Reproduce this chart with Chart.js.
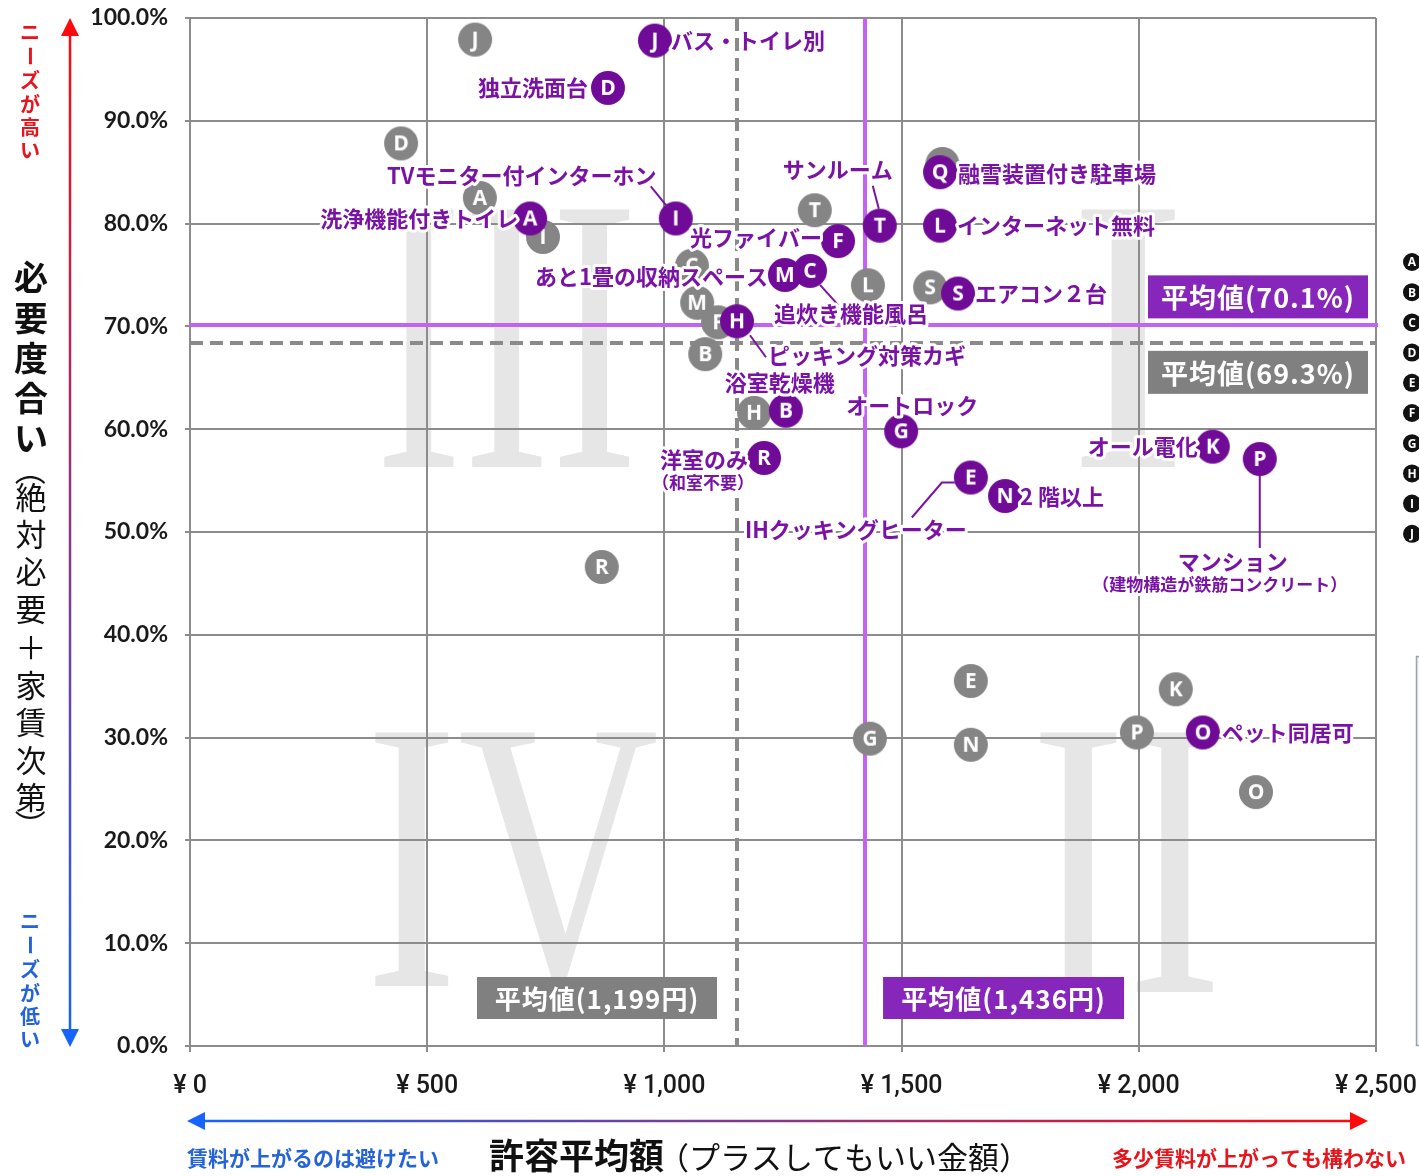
<!DOCTYPE html>
<html><head><meta charset="utf-8">
<script src="https://cdn.jsdelivr.net/npm/chart.js@4"></script>
<style>html,body{margin:0;padding:0;background:#fff;}#wrap{width:1419px;height:1176px;}</style>
</head><body><div id="wrap"><canvas id="c" width="1419" height="1176"></canvas></div>
<script>
// ---- data ----
const keys = ['A','B','C','D','E','F','G','H','I','J','K','L','M','N','O','P','Q','R','S','T'];
const prevX = [611,1086,1058,445,1646,1113,1433,1189,744,601,2078,1429,1069,1646,2247,1996,1586,868,1560,1317];
const prevY = [82.5,67.3,75.9,87.8,35.5,70.4,29.9,61.6,78.7,97.9,34.7,74.0,72.3,29.3,24.7,30.5,85.8,46.6,73.8,81.3];
const curX = [717,1256,1307,881,1646,1366,1499,1153,1024,980,2156,1581,1254,1718,2135,2255,1581,1210,1619,1454];
const curY = [80.5,61.8,75.4,93.2,55.3,78.3,59.8,70.5,80.5,97.8,58.3,79.8,75.0,53.5,30.5,57.1,85.0,57.2,73.2,79.8];
const itemNames = ['洗浄機能付きトイレ','浴室乾燥機','追炊き機能風呂','独立洗面台','IHクッキングヒーター','光ファイバー','オートロック','ピッキング対策カギ','TVモニター付インターホン','バス・トイレ別','オール電化','インターネット無料','あと1畳の収納スペース','2 階以上','ペット同居可','マンション','融雪装置付き駐車場','洋室のみ','エアコン２台','サンルーム'];
const subNames = {P:'（建物構造が鉄筋コンクリート）', R:'（和室不要）'};
const avgXValues = [1153, 1423];
const avgYValues = [68.4, 70.1];
const avgXText = ['平均値(1,199円)','平均値(1,436円)'];
const avgYText = ['平均値(69.3%)','平均値(70.1%)'];
const xTickValues = [0,500,1000,1500,2000,2500];
const yTickValues = [0,10,20,30,40,50,60,70,80,90,100];
const legendKeys = ['A','B','C','D','E','F','G','H','I','J'];

// ---- styles ----
const GRAY = '#858585', PURPLE = '#700b98', TEXTP = '#7a12a6', GRID = '#8c8c8c';
const AREA = {left:190, top:18, right:1376, bottom:1046};
const labelLayout = {
 A:{dx:-12,dy:0,al:'right'}, B:{dx:-6,dy:-28,al:'center'},
 C:{dx:41,dy:43,al:'center',ld:[[10,14],[28,34]]}, D:{dx:-20,dy:0,al:'right'},
 E:{dx:-115,dy:52,al:'center',ld:[[-16,5],[-29,5],[-59,40]]}, F:{dx:-16,dy:-3,al:'right'},
 G:{dx:11,dy:-26,al:'center'}, H:{dx:31,dy:34,al:'left',ld:[[13,14],[29,36]]},
 I:{dx:-154,dy:-43,al:'center',ld:[[-8,-11],[-25,-32]]}, J:{dx:16,dy:0,al:'left'},
 K:{dx:-15,dy:0,al:'right'}, L:{dx:17,dy:0,al:'left'}, M:{dx:-17,dy:2,al:'right'},
 N:{dx:15,dy:1,al:'left'}, O:{dx:19,dy:0,al:'left'},
 P:{dx:-27,dy:103,al:'center',sdx:-40,sdy:126,ld:[[0,17],[0,89]]},
 Q:{dx:18,dy:1,al:'left'}, R:{dx:-16,dy:2,al:'right',sdx:-61,sdy:25},
 S:{dx:17,dy:0,al:'left'}, T:{dx:-42,dy:-56,al:'center',ld:[[-1,-17],[-7,-40]]}
};
const JP = '"Noto Sans CJK JP", "Noto Sans", sans-serif';

function makeIcon(letter, color){
  const c = document.createElement('canvas'); c.width = 36; c.height = 36;
  const g = c.getContext('2d');
  g.fillStyle = color; g.beginPath(); g.arc(18,18,17,0,Math.PI*2); g.fill();
  g.fillStyle = '#fff'; g.font = 'bold 21px "Open Sans", sans-serif';
  g.textAlign = 'center'; g.textBaseline = 'middle';
  g.fillText(letter, 18, 19);
  return c;
}

function drawNumeral(ctx, txt, x0, x1, y0, y1){
  ctx.save();
  ctx.font = '400px "Liberation Serif", "DejaVu Serif", serif';
  const m = ctx.measureText(txt);
  const w = m.actualBoundingBoxLeft + m.actualBoundingBoxRight;
  const h = m.actualBoundingBoxAscent + m.actualBoundingBoxDescent;
  ctx.translate(x0, y1);
  ctx.scale((x1-x0)/w, (y1-y0)/h);
  ctx.fillStyle = '#e6e6e6';
  ctx.textBaseline = 'alphabetic';
  ctx.fillText(txt, m.actualBoundingBoxLeft, -m.actualBoundingBoxDescent);
  ctx.restore();
}

function haloText(ctx, txt, x, y, font, color, align){
  ctx.font = font; ctx.textAlign = align; ctx.textBaseline = 'middle';
  ctx.lineJoin = 'round'; ctx.strokeStyle = '#fff'; ctx.lineWidth = 6;
  ctx.strokeText(txt, x, y);
  ctx.fillStyle = color; ctx.fillText(txt, x, y);
}

function drawVertical(ctx, chars, x, centers, font, color){
  ctx.save();
  ctx.font = font; ctx.fillStyle = color; ctx.textAlign = 'center'; ctx.textBaseline = 'middle';
  chars.forEach((ch, i) => {
    const y = centers[i];
    if ('ー（）'.includes(ch)) {
      ctx.save(); ctx.translate(x, y); ctx.rotate(Math.PI/2); ctx.fillText(ch, 0, 0); ctx.restore();
    } else ctx.fillText(ch, x, y);
  });
  ctx.restore();
}

function box(ctx, x, y, w, h, fill, txt, font){
  ctx.save();
  ctx.fillStyle = fill; ctx.fillRect(x, y, w, h);
  ctx.fillStyle = '#fff'; ctx.font = font; ctx.textAlign = 'center'; ctx.textBaseline = 'middle';
  ctx.letterSpacing = '1px';
  ctx.fillText(txt, x + w/2, y + h/2 + 1);
  ctx.restore();
}

const decoPlugin = {
  id: 'deco',
  beforeDraw(chart){
    const ctx = chart.ctx;
    ctx.save(); ctx.fillStyle = '#fff'; ctx.fillRect(0,0,chart.width,chart.height); ctx.restore();
    drawNumeral(ctx, 'III', 383, 633, 209, 467);
    drawNumeral(ctx, 'I', 1080, 1180, 209, 467);
    drawNumeral(ctx, 'IV', 374, 658, 732, 992);
    drawNumeral(ctx, 'II', 1039, 1217, 732, 992);
  },
  beforeDatasetsDraw(chart){
    const ctx = chart.ctx, xs = chart.scales.x, ys = chart.scales.y, ca = chart.chartArea;
    ctx.save();
    ctx.strokeStyle = '#8a8a8a'; ctx.lineWidth = 4; ctx.setLineDash([13,7]);
    let px = Math.round(xs.getPixelForValue(avgXValues[0]));
    ctx.beginPath(); ctx.moveTo(px, ca.top); ctx.lineTo(px, ca.bottom); ctx.stroke();
    let py = Math.round(ys.getPixelForValue(avgYValues[0]));
    ctx.beginPath(); ctx.moveTo(ca.left, py); ctx.lineTo(ca.right, py); ctx.stroke();
    ctx.setLineDash([]);
    ctx.strokeStyle = '#c462f2';
    px = Math.round(xs.getPixelForValue(avgXValues[1]));
    ctx.beginPath(); ctx.moveTo(px, ca.top); ctx.lineTo(px, ca.bottom); ctx.stroke();
    py = Math.round(ys.getPixelForValue(avgYValues[1]));
    ctx.beginPath(); ctx.moveTo(ca.left, py); ctx.lineTo(ca.right + 2, py); ctx.stroke();
    ctx.restore();
  },
  afterDatasetsDraw(chart){
    const ctx = chart.ctx, xs = chart.scales.x, ys = chart.scales.y, ca = chart.chartArea;
    const meta = chart.getDatasetMeta(0);
    ctx.save();
    ctx.strokeStyle = TEXTP; ctx.lineWidth = 2;
    keys.forEach((k, i) => {
      const L = labelLayout[k]; if (!L.ld) return;
      const el = meta.data[i];
      ctx.beginPath();
      L.ld.forEach((p, j) => { const fx = j ? 'lineTo' : 'moveTo'; ctx[fx](el.x + p[0], el.y + p[1]); });
      ctx.stroke();
    });
    keys.forEach((k, i) => {
      const L = labelLayout[k], el = meta.data[i];
      haloText(ctx, itemNames[i], el.x + L.dx, el.y + L.dy, 'bold 22px ' + JP, TEXTP, L.al);
      if (subNames[k]) haloText(ctx, subNames[k], el.x + L.sdx, el.y + L.sdy, 'bold 17px ' + JP, TEXTP, 'center');
    });
    const fY = 'bold 27px ' + JP, fX = 'bold 26px ' + JP;
    const gy = ys.getPixelForValue(avgYValues[0]), py = ys.getPixelForValue(avgYValues[1]);
    box(ctx, ca.right - 228, py - 50, 220, 43, '#8626bb', avgYText[1], fY);
    box(ctx, ca.right - 228, gy + 8, 220, 43, '#808080', avgYText[0], fY);
    const gx = xs.getPixelForValue(avgXValues[0]), px = xs.getPixelForValue(avgXValues[1]);
    box(ctx, gx - 260, ca.bottom - 69, 240, 42, '#808080', avgXText[0], fX);
    box(ctx, px + 18, ca.bottom - 69, 241, 42, '#8626bb', avgXText[1], fX);
    ctx.restore();
  },
  afterDraw(chart){
    const ctx = chart.ctx, ca = chart.chartArea;
    ctx.save();
    let g = ctx.createLinearGradient(0, ca.top, 0, ca.bottom);
    g.addColorStop(0, '#ff0a0a'); g.addColorStop(1, '#1464ff');
    ctx.strokeStyle = g; ctx.fillStyle = g; ctx.lineWidth = 2.5;
    ctx.beginPath(); ctx.moveTo(70, ca.top + 12); ctx.lineTo(70, ca.bottom - 12); ctx.stroke();
    ctx.beginPath(); ctx.moveTo(70, ca.top); ctx.lineTo(61, ca.top + 18); ctx.lineTo(79, ca.top + 18); ctx.closePath(); ctx.fill();
    ctx.beginPath(); ctx.moveTo(70, ca.bottom + 1); ctx.lineTo(61, ca.bottom - 17); ctx.lineTo(79, ca.bottom - 17); ctx.closePath(); ctx.fill();
    const ay = 1121, ax0 = 187, ax1 = 1368;
    g = ctx.createLinearGradient(ax0, 0, ax1, 0);
    g.addColorStop(0, '#1464ff'); g.addColorStop(1, '#ff0a0a');
    ctx.strokeStyle = g; ctx.fillStyle = g;
    ctx.beginPath(); ctx.moveTo(ax0 + 12, ay); ctx.lineTo(ax1 - 12, ay); ctx.stroke();
    ctx.beginPath(); ctx.moveTo(ax0, ay); ctx.lineTo(ax0 + 18, ay - 9); ctx.lineTo(ax0 + 18, ay + 9); ctx.closePath(); ctx.fill();
    ctx.beginPath(); ctx.moveTo(ax1, ay); ctx.lineTo(ax1 - 18, ay - 9); ctx.lineTo(ax1 - 18, ay + 9); ctx.closePath(); ctx.fill();
    const red = '#e8141c', blue = '#2563d8';
    const c6 = [32, 56, 80, 104, 127, 150];
    drawVertical(ctx, [...'ニーズが高い'], 30, c6, 'bold 20px ' + JP, red);
    drawVertical(ctx, [...'ニーズが低い'], 30, c6.map(v => v + 889), 'bold 20px ' + JP, blue);
    drawVertical(ctx, [...'必要度合い'], 31, [277, 318, 358, 398, 438], 'bold 34px ' + JP, '#111');
    const sub = [...'（絶対必要＋家賃次第）'];
    const cs = [470, 497, 534, 571, 609, 647, 685, 722, 760, 797, 825];
    drawVertical(ctx, sub, 31, cs, '400 31px ' + JP, '#111');
    ctx.textBaseline = 'middle'; ctx.textAlign = 'left';
    ctx.font = 'bold 21px ' + JP; ctx.fillStyle = blue;
    ctx.fillText('賃料が上がるのは避けたい', 187, 1158);
    ctx.fillStyle = red; ctx.textAlign = 'right';
    ctx.fillText('多少賃料が上がっても構わない', 1406, 1158);
    ctx.textAlign = 'left'; ctx.fillStyle = '#111';
    ctx.font = 'bold 35px ' + JP;
    ctx.fillText('許容平均額', 489, 1156);
    const w1 = ctx.measureText('許容平均額').width;
    ctx.font = '400 31px ' + JP;
    ctx.fillText('（プラスしてもいい金額）', 489 + w1 - 6, 1157);
    legendKeys.forEach((k, i) => {
      const y = 262 + i * 30.2;
      ctx.fillStyle = '#111'; ctx.beginPath(); ctx.arc(1412, y, 9, 0, Math.PI*2); ctx.fill();
      ctx.fillStyle = '#fff'; ctx.font = 'bold 12px "Open Sans", sans-serif'; ctx.textAlign = 'center';
      ctx.fillText(k, 1412, y + 1);
    });
    ctx.fillStyle = '#eef3f7'; ctx.fillRect(1416, 656, 10, 390);
    ctx.strokeStyle = '#a0a0a0'; ctx.lineWidth = 1.5; ctx.strokeRect(1416.5, 656.5, 10, 389);
    ctx.restore();
  }
};

const chart = new Chart(document.getElementById('c'), {
  type: 'scatter',
  data: { datasets: [
    { label: '今回', order: 1, data: keys.map((k,i) => ({x: curX[i], y: curY[i]})),
      pointStyle: keys.map(k => makeIcon(k, PURPLE)), pointRadius: 17 },
    { label: '前回', order: 2, data: keys.map((k,i) => ({x: prevX[i], y: prevY[i]})),
      pointStyle: keys.map(k => makeIcon(k, GRAY)), pointRadius: 17 }
  ]},
  options: {
    responsive: false, animation: false, events: [], devicePixelRatio: 1,
    layout: { padding: { top: AREA.top, right: 1419 - AREA.right, left: 0, bottom: 0 } },
    plugins: { legend: { display: false }, tooltip: { enabled: false } },
    scales: {
      x: { type: 'linear', min: 0, max: 2500,
        afterBuildTicks: s => { s.ticks = xTickValues.map(v => ({value: v})); },
        afterFit: s => { s.height = 1176 - AREA.bottom; s.paddingLeft = 0; s.paddingRight = 0; },
        grid: { color: GRID, lineWidth: 2, tickLength: 6, tickColor: GRID },
        border: { color: GRID, width: 2 },
        ticks: { padding: 20, color: '#1a1a1a', maxRotation: 0,
          font: { family: '"Liberation Sans Narrow", Roboto, sans-serif', size: 25, weight: '500' },
          callback: v => '¥ ' + Number(v).toLocaleString('en-US') } },
      y: { type: 'linear', min: 0, max: 100,
        afterBuildTicks: s => { s.ticks = yTickValues.map(v => ({value: v})); },
        afterFit: s => { s.width = AREA.left; s.paddingTop = 0; s.paddingBottom = 0; },
        grid: { color: GRID, lineWidth: 2, tickLength: 5, tickColor: GRID },
        border: { color: GRID, width: 2 },
        ticks: { padding: 17, color: '#1a1a1a',
          font: { family: 'Lato, "Open Sans", sans-serif', size: 23, weight: 'bold' },
          callback: v => Number(v).toFixed(1) + '%' } }
    }
  },
  plugins: [decoPlugin]
});
const ca = chart.chartArea, p = chart.options.layout.padding;
p.top += AREA.top - ca.top; p.right += ca.right - AREA.right;
chart.update();
</script></body></html>
